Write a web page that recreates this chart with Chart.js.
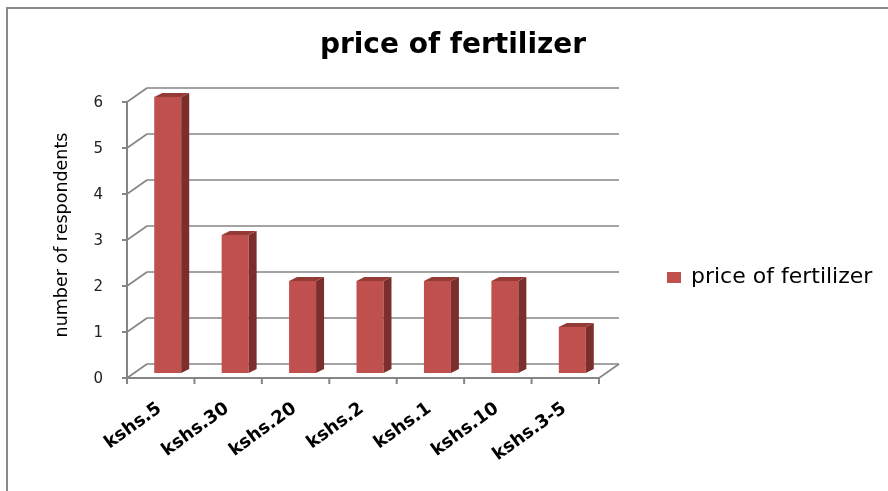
<!DOCTYPE html>
<html>
<head>
<meta charset="utf-8">
<title>price of fertilizer</title>
<script src="https://cdn.jsdelivr.net/npm/chart.js@4.4.1/dist/chart.umd.min.js"></script>
<style>
  html, body { margin: 0; padding: 0; background: #fff; }
</style>
</head>
<body>
<canvas id="myChart" width="888" height="491"></canvas>
<script>
const categories = ['kshs.5', 'kshs.30', 'kshs.20', 'kshs.2', 'kshs.1', 'kshs.10', 'kshs.3-5'];
const respondents = [6, 3, 2, 2, 2, 2, 1];
const seriesName = 'price of fertilizer';
const yMin = 0;
const yMax = 6;
const yStep = 1;

// fake 3d: offsets in px from the plane the bars stand in
const FRONT = { dx: -7, dy: 5 };
const BACK = { dx: 13, dy: -9 };
const BAR_DEPTH = { dx: 8, dy: -4 };
const GRID_COLOR = '#858585';

function line(ctx, x1, y1, x2, y2) {
  ctx.beginPath();
  ctx.moveTo(x1, y1);
  ctx.lineTo(x2, y2);
  ctx.stroke();
}

function poly(ctx, pts) {
  ctx.beginPath();
  ctx.moveTo(pts[0][0], pts[0][1]);
  for (let i = 1; i < pts.length; i++) ctx.lineTo(pts[i][0], pts[i][1]);
  ctx.closePath();
  ctx.fill();
}

const walls3d = {
  id: 'walls3d',
  beforeDraw(chart) {
    // frame round the picture
    const ctx = chart.ctx;
    ctx.save();
    ctx.strokeStyle = '#8a8a8a';
    ctx.lineWidth = 2;
    ctx.beginPath();
    ctx.moveTo(7, 491);
    ctx.lineTo(7, 8);
    ctx.lineTo(888, 8);
    ctx.stroke();
    ctx.restore();
  },
  beforeDatasetsDraw(chart) {
    const ctx = chart.ctx;
    const area = chart.chartArea;
    const yScale = chart.scales.y;
    ctx.save();
    ctx.strokeStyle = GRID_COLOR;
    ctx.lineWidth = 1.6;
    yScale.ticks.forEach((t) => {
      const yy = yScale.getPixelForValue(t.value);
      line(ctx, area.left + BACK.dx, yy + BACK.dy, area.right + BACK.dx, yy + BACK.dy);
      line(ctx, area.left + FRONT.dx, yy + FRONT.dy, area.left + BACK.dx, yy + BACK.dy);
    });
    const y0 = yScale.getPixelForValue(yMin);
    line(ctx, area.right + FRONT.dx, y0 + FRONT.dy, area.right + BACK.dx, y0 + BACK.dy);
    ctx.restore();
  },
  afterDatasetsDraw(chart) {
    const ctx = chart.ctx;
    const area = chart.chartArea;
    const xScale = chart.scales.x;
    const yScale = chart.scales.y;
    ctx.save();

    // side and top faces of the bars
    chart.getDatasetMeta(0).data.forEach((bar) => {
      const { x, y, base, width } = bar.getProps(['x', 'y', 'base', 'width'], true);
      const l = x - width / 2;
      const r = x + width / 2;
      ctx.fillStyle = '#7b2e2c';
      poly(ctx, [[r, y], [r + BAR_DEPTH.dx, y + BAR_DEPTH.dy], [r + BAR_DEPTH.dx, base + BAR_DEPTH.dy], [r, base]]);
      ctx.fillStyle = '#943a37';
      poly(ctx, [[l, y], [l + BAR_DEPTH.dx, y + BAR_DEPTH.dy], [r + BAR_DEPTH.dx, y + BAR_DEPTH.dy], [r, y]]);
    });

    // front axes
    ctx.strokeStyle = GRID_COLOR;
    ctx.lineWidth = 2;
    const xl = area.left + FRONT.dx;
    const xr = area.right + FRONT.dx;
    const y0 = yScale.getPixelForValue(yMin) + FRONT.dy;
    const yTop = yScale.getPixelForValue(yMax) + FRONT.dy;
    line(ctx, xl, yTop, xl, y0 + 1);
    line(ctx, xl, y0, xr, y0);
    yScale.ticks.forEach((t) => {
      const yy = yScale.getPixelForValue(t.value) + FRONT.dy;
      line(ctx, xl - 5, yy, xl, yy);
    });
    const step = xScale.getPixelForValue(1) - xScale.getPixelForValue(0);
    for (let i = 0; i <= categories.length; i++) {
      const xx = xScale.getPixelForValue(0) - step / 2 + i * step + FRONT.dx;
      line(ctx, xx, y0, xx, y0 + 6);
    }
    ctx.restore();
  },
  afterDraw(chart) {
    // legend, to the right of the plot
    const ctx = chart.ctx;
    const ds = chart.data.datasets[0];
    ctx.save();
    ctx.fillStyle = ds.backgroundColor;
    ctx.fillRect(667, 272, 14, 11);
    ctx.fillStyle = '#000';
    ctx.font = "22px 'DejaVu Sans', sans-serif";
    ctx.textBaseline = 'middle';
    ctx.textAlign = 'left';
    ctx.fillText(ds.label, 691, 277.5);
    ctx.restore();
  },
};

Chart.defaults.font.family = "'DejaVu Sans', sans-serif";

const ctx = document.getElementById('myChart');

new Chart(ctx, {
  type: 'bar',
  data: {
    labels: categories,
    datasets: [
      {
        label: seriesName,
        data: respondents,
        yAxisID: 'y',
        backgroundColor: '#C0504D',
        borderWidth: 0,
        barPercentage: 0.4,
        categoryPercentage: 1,
      },
    ],
  },
  options: {
    responsive: false,
    animation: false,
    layout: {
      padding: { left: 18, right: 0, top: 19, bottom: 0 },
    },
    plugins: {
      title: {
        display: true,
        text: 'price of fertilizer',
        color: '#000',
        font: { size: 28, weight: 'bold' },
        padding: { top: 10, bottom: 34.4 },
      },
      legend: { display: false },
      tooltip: { enabled: false },
    },
    scales: {
      x: {
        grid: { display: false, drawTicks: false },
        border: { display: false },
        ticks: {
          autoSkip: false,
          minRotation: 36,
          maxRotation: 36,
          labelOffset: -8,
          padding: 25,
          color: '#000',
          font: { size: 18, weight: 'bold' },
        },
        afterFit(scale) {
          scale.height = 118;
        },
      },
      y: {
        min: yMin,
        max: yMax,
        grid: { display: false, drawTicks: false },
        border: { display: false },
        ticks: {
          stepSize: yStep,
          padding: 31,
          labelOffset: 6,
          color: '#222',
          font: { size: 15 },
        },
        title: {
          display: true,
          text: 'number of respondents',
          color: '#000',
          font: { size: 17.5 },
          padding: { top: 34, bottom: 0 },
        },
        afterFit(scale) {
          scale.width = 116;
        },
      },
      // empty axis that keeps the room on the right free for the legend
      spacer: {
        type: 'linear',
        position: 'right',
        grid: { display: false },
        border: { display: false },
        ticks: { display: false },
        afterFit(scale) {
          scale.width = 282;
        },
      },
    },
  },
  plugins: [walls3d],
});
</script>
</body>
</html>
